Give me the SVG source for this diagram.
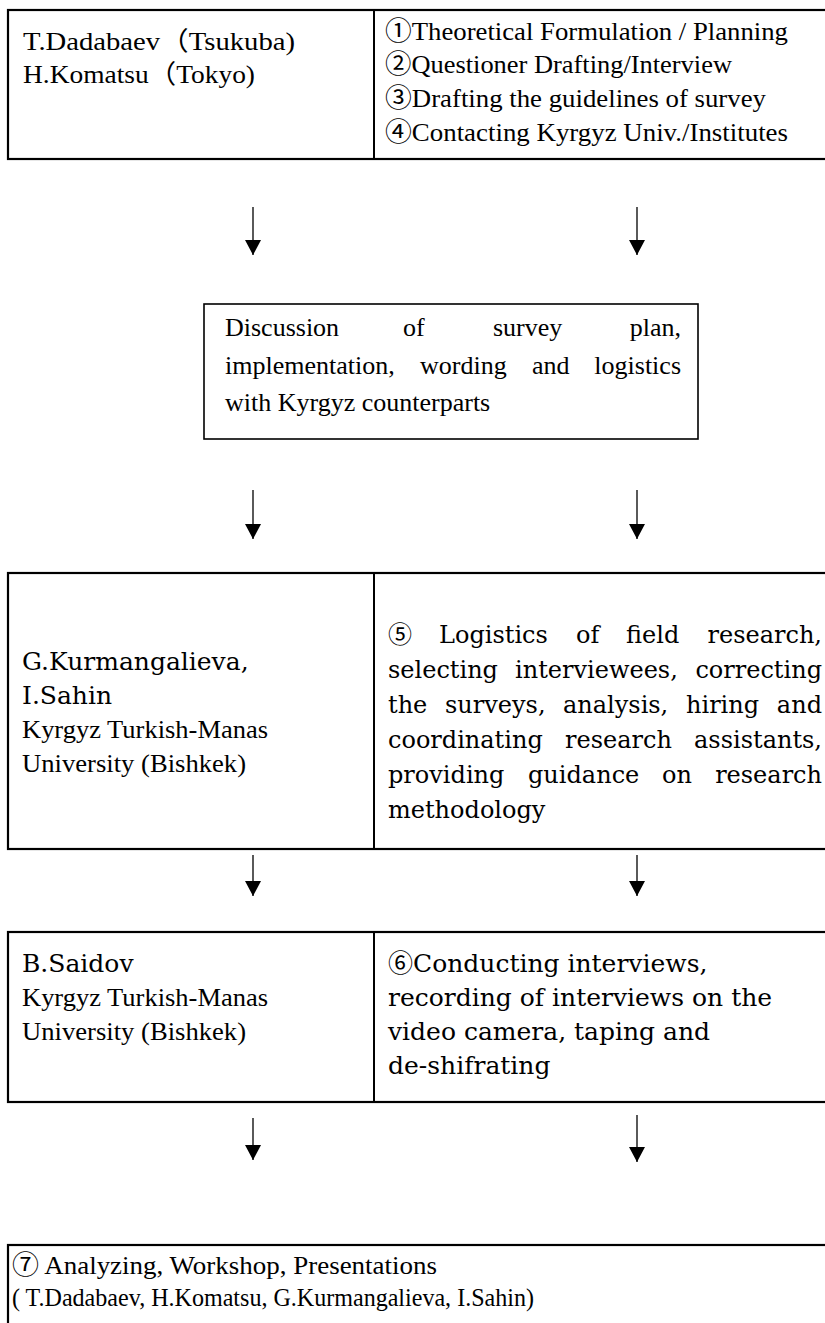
<svg xmlns="http://www.w3.org/2000/svg" width="825" height="1323" viewBox="0 0 825 1323">
<style>
.box{fill:none;stroke:#000;stroke-width:2.2}
.mid{fill:none;stroke:#000;stroke-width:1.6}
.div{stroke:#000;stroke-width:2}
.t{font-family:"Liberation Serif","Noto Sans CJK JP",serif;font-size:26px;fill:#000}
.c{font-family:"DejaVu Serif","Noto Sans CJK JP",serif;font-size:24px;fill:#000}
.c5{font-size:25px}
.e{text-anchor:end}
.arr{stroke:#000;stroke-width:1.3;fill:none;marker-end:url(#ah)}
</style>
<defs>
<marker id="ah" markerUnits="userSpaceOnUse" markerWidth="16" markerHeight="16" refX="15" refY="8" orient="auto" viewBox="0 0 16 16">
<path d="M0,0 L15,8 L0,16 Z" fill="#000"/>
</marker>
</defs>
<rect width="825" height="1323" fill="#fff"/>

<g id="node1">
<rect class="box" x="8" y="10" width="830" height="149"/>
<line class="div" x1="374" y1="10" x2="374" y2="159"/>
<text class="t" x="23" y="50" textLength="272" lengthAdjust="spacingAndGlyphs">T.Dadabaev（Tsukuba)</text>
<text class="t" x="23" y="83" textLength="232" lengthAdjust="spacingAndGlyphs">H.Komatsu（Tokyo)</text>
<text class="t" x="385" y="40" textLength="403" lengthAdjust="spacingAndGlyphs">①Theoretical Formulation / Planning</text>
<text class="t" x="385" y="73" textLength="347" lengthAdjust="spacingAndGlyphs">②Questioner Drafting/Interview</text>
<text class="t" x="385" y="107" textLength="381" lengthAdjust="spacingAndGlyphs">③Drafting the guidelines of survey</text>
<text class="t" x="385" y="141" textLength="403" lengthAdjust="spacingAndGlyphs">④Contacting Kyrgyz Univ./Institutes</text>
</g>

<g id="node2">
<rect class="mid" x="204" y="304" width="494" height="135"/>
<text class="t" x="225" y="336">Discussion</text>
<text class="t" x="403" y="336">of</text>
<text class="t" x="493" y="336">survey</text>
<text class="t e" x="681" y="336">plan,</text>
<text class="t" x="225" y="374">implementation,</text>
<text class="t" x="420" y="374">wording</text>
<text class="t" x="532" y="374">and</text>
<text class="t e" x="681" y="374">logistics</text>
<text class="t" x="225" y="411">with Kyrgyz counterparts</text>
</g>

<g id="node3">
<rect class="box" x="8" y="573" width="830" height="276"/>
<line class="div" x1="374" y1="573" x2="374" y2="849"/>
<text class="c c5" x="22" y="670">G.Kurmangalieva,</text>
<text class="c c5" x="22" y="704">I.Sahin</text>
<text class="t" x="22" y="738" textLength="246" lengthAdjust="spacingAndGlyphs">Kyrgyz Turkish-Manas</text>
<text class="t" x="22" y="772" textLength="224" lengthAdjust="spacingAndGlyphs">University (Bishkek)</text>
<text class="c" x="388" y="643">⑤</text>
<text class="c" x="439" y="643">Logistics</text>
<text class="c" x="576" y="643">of</text>
<text class="c" x="626" y="643">field</text>
<text class="c e" x="822" y="643">research,</text>
<text class="c" x="388" y="678">selecting</text>
<text class="c" x="515" y="678">interviewees,</text>
<text class="c e" x="822" y="678">correcting</text>
<text class="c" x="388" y="713">the</text>
<text class="c" x="445" y="713">surveys,</text>
<text class="c" x="563" y="713">analysis,</text>
<text class="c" x="686" y="713">hiring</text>
<text class="c e" x="822" y="713">and</text>
<text class="c" x="388" y="748">coordinating</text>
<text class="c" x="565" y="748">research</text>
<text class="c e" x="822" y="748">assistants,</text>
<text class="c" x="388" y="783">providing</text>
<text class="c" x="528" y="783">guidance</text>
<text class="c" x="662" y="783">on</text>
<text class="c e" x="822" y="783">research</text>
<text class="c" x="388" y="818">methodology</text>
</g>

<g id="node4">
<rect class="box" x="8" y="932" width="830" height="170"/>
<line class="div" x1="374" y1="932" x2="374" y2="1102"/>
<text class="c c5" x="22" y="972">B.Saidov</text>
<text class="t" x="22" y="1006" textLength="246" lengthAdjust="spacingAndGlyphs">Kyrgyz Turkish-Manas</text>
<text class="t" x="22" y="1040" textLength="224" lengthAdjust="spacingAndGlyphs">University (Bishkek)</text>
<text class="c c5" x="388" y="972">⑥Conducting interviews,</text>
<text class="c c5" x="388" y="1006">recording of interviews on the</text>
<text class="c c5" x="388" y="1040">video camera, taping and</text>
<text class="c c5" x="388" y="1074">de-shifrating</text>
</g>

<g id="node5">
<rect class="box" x="8" y="1245" width="830" height="100"/>
<text class="t" x="12" y="1274" textLength="425" lengthAdjust="spacingAndGlyphs">⑦ Analyzing, Workshop, Presentations</text>
<text class="t" x="12" y="1306" textLength="522" lengthAdjust="spacingAndGlyphs">( T.Dadabaev, H.Komatsu, G.Kurmangalieva, I.Sahin)</text>
</g>

<g id="connectors">
<line class="arr" x1="253" y1="207" x2="253" y2="255"/>
<line class="arr" x1="637" y1="207" x2="637" y2="255"/>
<line class="arr" x1="253" y1="490" x2="253" y2="539"/>
<line class="arr" x1="637" y1="490" x2="637" y2="539"/>
<line class="arr" x1="253" y1="855" x2="253" y2="896"/>
<line class="arr" x1="637" y1="855" x2="637" y2="896"/>
<line class="arr" x1="253" y1="1118" x2="253" y2="1160"/>
<line class="arr" x1="637" y1="1115" x2="637" y2="1162"/>
</g>
</svg>
